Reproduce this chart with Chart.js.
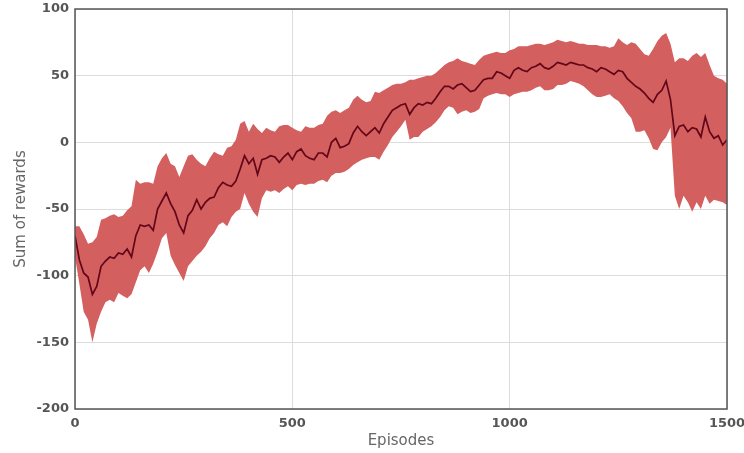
<!DOCTYPE html>
<html>
<head>
<meta charset="utf-8">
<script src="https://cdn.jsdelivr.net/npm/chart.js@4.4.1/dist/chart.umd.min.js"></script>
<style>
  html, body { margin: 0; padding: 0; background: #fff; }
  #wrap { width: 744px; height: 453px; }
</style>
</head>
<body>
<div id="wrap"><canvas id="rewardChart"></canvas></div>
<script>
// Episodes sampled every 10
const episodes = [];
for (let e = 0; e <= 1500; e += 10) episodes.push(e);

// Mean reward curve
const meanReward = [
  -70, -88, -98, -101, -114, -108, -93, -89, -86, -87,
  -83, -84, -80, -86, -70, -62, -63, -62, -66, -50,
  -44, -38, -46, -52, -62, -68, -55, -51, -43, -50,
  -45, -42, -41, -34, -30, -32, -33, -29, -20, -10,
  -16, -12, -24, -13, -12, -10, -11, -15, -11, -8,
  -13, -7, -5, -10, -12, -13, -8, -8, -11, 0,
  3, -4, -3, -1, 7, 12, 8, 5, 8, 11,
  7, 14, 19, 24, 26, 28, 29, 21, 26, 29,
  28, 30, 29, 33, 38, 42, 42, 40, 43, 44,
  41, 38, 39, 43, 47, 48, 48, 53, 52, 50,
  48, 54, 56, 54, 53, 56, 57, 59, 56, 55,
  57, 60, 59, 58, 60, 59, 58, 58, 56, 55,
  53, 56, 55, 53, 51, 54, 53, 48, 45, 42,
  40, 37, 33, 30, 36, 39, 46, 32, 5, 12,
  13, 8, 11, 10, 4, 19, 8, 3, 5, -2,
  2
];

// Upper edge of the shaded band
const upperBand = [
  -63, -63, -69, -76, -75, -71, -58, -57, -55, -54,
  -56, -55, -51, -48, -28, -31, -30, -30, -31, -18,
  -12, -8, -16, -18, -26, -18, -10, -9, -13, -16,
  -18, -12, -7, -9, -10, -4, -3, 2, 14, 16,
  8, 14, 10, 7, 11, 9, 8, 12, 13, 13,
  11, 9, 8, 12, 11, 11, 13, 14, 20, 23,
  24, 22, 24, 26, 32, 35, 32, 30, 31, 38,
  37, 39, 41, 43, 44, 44, 45, 47, 47, 48,
  49, 50, 50, 52, 55, 58, 60, 61, 63, 61,
  60, 59, 58, 62, 65, 66, 67, 68, 67, 67,
  69, 70, 72, 72, 72, 73, 74, 74, 73, 74,
  75, 77, 76, 75, 76, 75, 74, 74, 73, 73,
  73, 72, 72, 71, 72, 78, 75, 73, 75, 74,
  70, 66, 65, 70, 76, 80, 82, 74, 60, 63,
  63, 61, 65, 67, 64, 67, 58, 50, 48, 47,
  44
];

// Lower edge of the shaded band
const lowerBand = [
  -86, -106, -127, -133, -150, -136, -127, -120, -118, -120,
  -113, -115, -117, -114, -105, -96, -93, -98, -91, -82,
  -72, -68, -85, -92, -98, -104, -93, -89, -85, -82,
  -78, -72, -68, -62, -60, -63, -56, -52, -50, -38,
  -46, -52, -56, -42, -36, -37, -36, -38, -35, -33,
  -36, -32, -31, -32, -31, -31, -29, -28, -30, -25,
  -23, -23, -22, -20, -17, -15, -13, -12, -11, -11,
  -13, -7, -2, 4, 8, 12, 17, 2, 4, 4,
  8, 10, 12, 15, 19, 24, 27, 26, 21, 23,
  24, 22, 23, 25, 33, 35, 36, 37, 36, 36,
  34, 36, 37, 38, 38, 39, 41, 42, 39, 39,
  40, 43, 43, 44, 46, 45, 44, 42, 39, 36,
  34, 34, 35, 36, 33, 31, 27, 22, 18, 8,
  8, 9, 3, -5, -6, 0, 4, 11, -40, -50,
  -40, -45, -52, -45, -50, -40, -46, -43, -44, -45,
  -47
];

const xTicks = [0, 500, 1000, 1500];

const toPoints = arr => arr.map((v, i) => ({ x: episodes[i], y: v }));

// Frame around the plot area
const boxPlugin = {
  id: "box",
  afterDraw(chart) {
    const { ctx, chartArea: a } = chart;
    ctx.save();
    ctx.strokeStyle = "#555";
    ctx.lineWidth = 1.5;
    ctx.strokeRect(a.left, a.top, a.right - a.left, a.bottom - a.top);
    ctx.restore();
  }
};

const ctx = document.getElementById("rewardChart").getContext("2d");
new Chart(ctx, {
  type: "line",
  data: {
    datasets: [
      {
        label: "Mean",
        data: toPoints(meanReward),
        borderColor: "#62061a",
        borderWidth: 1.7,
        pointRadius: 0,
        fill: false,
        order: 0
      },
      {
        label: "Upper",
        data: toPoints(upperBand),
        borderColor: "rgba(0,0,0,0)",
        borderWidth: 0,
        pointRadius: 0,
        fill: false,
        order: 1
      },
      {
        label: "Lower",
        data: toPoints(lowerBand),
        borderColor: "rgba(0,0,0,0)",
        borderWidth: 0,
        pointRadius: 0,
        backgroundColor: "#d45f5f",
        fill: "-1",
        order: 1
      }
    ]
  },
  options: {
    responsive: true,
    maintainAspectRatio: false,
    animation: false,
    layout: { padding: 0 },
    plugins: {
      legend: { display: false },
      tooltip: { enabled: false }
    },
    scales: {
      x: {
        type: "linear",
        min: 0,
        max: 1500,
        afterBuildTicks: axis => { axis.ticks = xTicks.map(v => ({ value: v })); },
        afterFit: axis => {
          axis.height = 44;
          axis.paddingRight = 17;
          axis.paddingLeft = 0;
        },
        grid: { color: "#dcdcdc", drawTicks: false },
        border: { display: false },
        ticks: {
          padding: 7,
          color: "#555",
          callback: v => String(v),
          font: { family: "DejaVu Sans", size: 13, weight: "bold" }
        },
        title: {
          display: true,
          text: "Episodes",
          color: "#666",
          padding: { top: 0, bottom: 3 },
          font: { family: "DejaVu Sans", size: 15 }
        }
      },
      y: {
        min: -200,
        max: 100,
        afterFit: axis => {
          axis.width = 75;
          axis.paddingTop = 9;
          axis.paddingBottom = 0;
        },
        grid: { color: "#dcdcdc", drawTicks: false },
        border: { display: false },
        ticks: {
          stepSize: 50,
          padding: 6,
          color: "#555",
          font: { family: "DejaVu Sans", size: 13, weight: "bold" }
        },
        title: {
          display: true,
          text: "Sum of rewards",
          color: "#666",
          padding: { top: 12, bottom: 0 },
          font: { family: "DejaVu Sans", size: 15 }
        }
      }
    }
  },
  plugins: [boxPlugin]
});
</script>
</body>
</html>
